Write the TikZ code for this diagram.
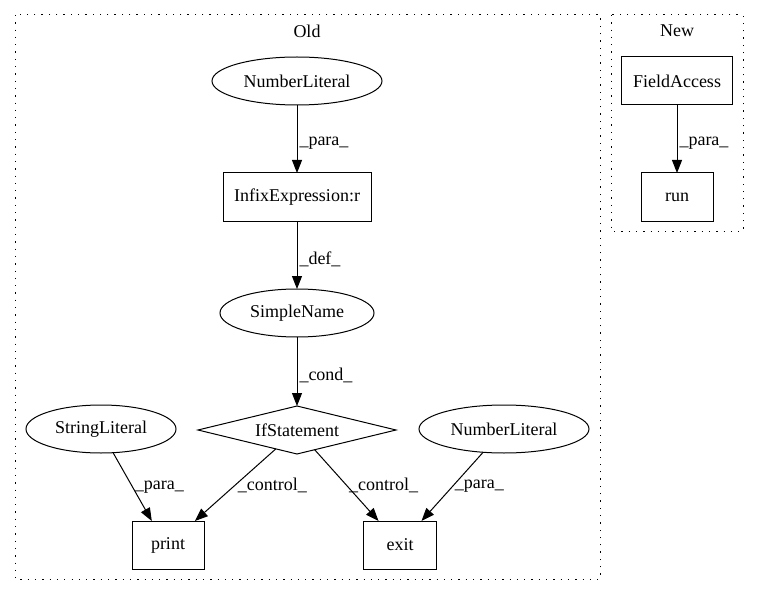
\documentclass[tikz,border=0pt]{standalone}
\usepackage{fontspec}
\setmainfont{Liberation Serif}
\usetikzlibrary{arrows.meta, shapes.geometric}

\begin{document}
\begin{tikzpicture}[
         x = 1pt, y = -1pt,
      font = \fontsize{18}{20}\selectfont,
line width = 1pt,
MyBox/.style={draw, rectangle, minimum height=48pt, inner sep=0pt, outer sep=0pt},
MyOval/.style={draw, ellipse, minimum height=48pt, inner sep=0pt, outer sep=0pt},
MyIf/.style={draw, diamond, aspect=4.1, minimum width=198pt, minimum height=48pt,
             inner sep=0pt, outer sep=0pt},
MyLabel/.style={anchor=west, inner sep=2pt},
MyCluster/.style={draw, dash pattern=on 1.3pt off 6pt},
  ]
\useasboundingbox (0,0) rectangle (760,596);
% clusters
\draw[MyCluster] (15,15) rectangle (600,579);
\draw[MyCluster] (611,15) rectangle (743,231);
\node (old) at (307,31) {Old};
\node (new) at (677,31) {New};
% old
\node [MyOval, minimum width=170pt] (num1)   at (297,81)  {NumberLiteral};
\node [MyBox,  minimum width=148pt] (infix)  at (297,197) {InfixExpression:r};
\node [MyOval, minimum width=154pt] (simple) at (297,313) {SimpleName};
\node [MyIf]                        (if)     at (297,430) {IfStatement};
\node [MyOval, minimum width=150pt] (str)    at (101,429) {StringLiteral};
\node [MyOval, minimum width=170pt] (num2)   at (504,429) {NumberLiteral};
\node [MyBox,  minimum width=72pt]  (print)  at (168,545) {print};
\node [MyBox,  minimum width=73pt]  (exit)   at (400,545) {exit};
% new
\node [MyBox,  minimum width=111pt] (field)  at (677,81)  {FieldAccess};
\node [MyBox,  minimum width=72pt]  (run)    at (677,197) {run};
\begin{scope}[-{Triangle[length=13pt, width=10pt]}]
  \draw (num1) -- node[MyLabel, yshift=-4pt] {\_para\_} (infix);
  \draw (infix) -- node[MyLabel, yshift=-4pt] {\_def\_} (simple);
  \draw (simple) -- node[MyLabel, yshift=-4pt] {\_cond\_} (if);
  \draw (str.-63) -- node[MyLabel] {\_para\_} (print.124);
  \draw (if) -- node[MyLabel] {\_control\_} (print);
  \draw (if) -- node[MyLabel] {\_control\_} (exit);
  \draw (num2) -- node[MyLabel] {\_para\_} (exit);
  \draw (field) -- node[MyLabel, yshift=-4pt] {\_para\_} (run);
\end{scope}
\end{tikzpicture}
\end{document}
